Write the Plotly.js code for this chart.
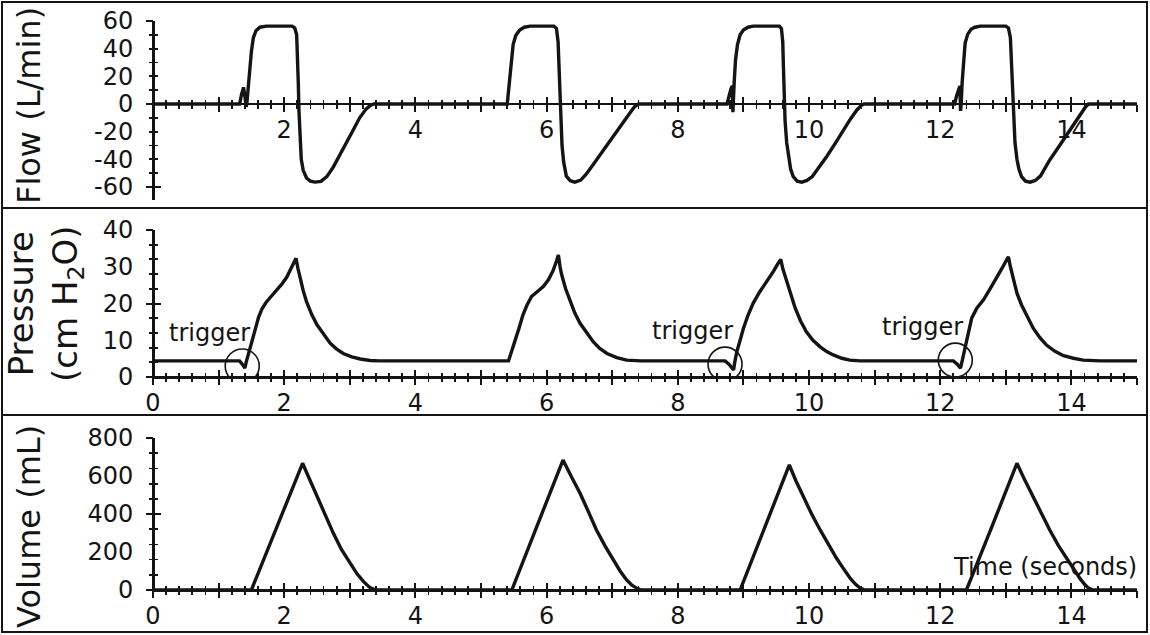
<!DOCTYPE html>
<html>
<head>
<meta charset="utf-8">
<script src="https://cdn.plot.ly/plotly-3.0.1.min.js"></script>
<style>html,body{margin:0;padding:0;background:#fff;}#chart{width:1150px;height:635px;}</style>
</head>
<body>
<div id="chart"></div>
<script>
// ---------------- DATA ----------------
// Flow (L/min) vs time (s)
const flowTime = [0,1.32,1.35,1.38,1.40,1.42,1.43,1.46,1.50,1.53,1.57,1.63,1.73,2.12,2.16,2.19,2.205,2.215,2.225,2.24,2.26,2.29,2.34,2.40,2.47,2.56,2.65,2.75,2.85,2.95,3.05,3.15,3.25,3.32,3.37,
  5.40,5.43,5.46,5.49,5.53,5.59,5.66,5.75,6.11,6.15,6.175,6.19,6.205,6.215,6.235,6.26,6.30,6.36,6.43,6.52,6.60,6.70,6.81,6.94,7.07,7.17,7.27,7.34,7.40,
  8.75,8.78,8.81,8.83,8.835,8.84,8.845,8.86,8.88,8.91,8.95,9.00,9.07,9.15,9.55,9.58,9.60,9.61,9.62,9.635,9.66,9.69,9.72,9.76,9.82,9.89,9.97,10.05,10.15,10.27,10.40,10.52,10.63,10.73,10.80,10.84,
  12.22,12.25,12.28,12.30,12.305,12.31,12.32,12.335,12.355,12.38,12.42,12.47,12.53,12.61,13.00,13.04,13.07,13.09,13.105,13.12,13.14,13.17,13.20,13.24,13.30,13.37,13.45,13.53,13.67,13.80,13.93,14.03,14.13,14.21,14.26,15.0];
const flowValue = [0,0,7,12,6,-2,0,18,38,48,53,55.5,56.3,56.3,55,50,35,15,-5,-28,-40,-48,-53.5,-55.8,-56.5,-56,-52.5,-45.5,-37,-28.5,-19,-10,-3.5,-0.8,0,
  0,14,32,43,49.5,53.5,55.5,56.3,56.3,54.5,45,27,5,-10,-30,-42,-52,-55.5,-56.5,-55,-51,-44.5,-37,-28.5,-20,-13,-6.5,-2,0,
  0,6,11,13,5,-6,0,16,32,43,50,53.5,55.5,56.3,56.3,54.5,45,27,3,-12,-28,-40,-47,-52.5,-55.8,-56.5,-55.3,-52.5,-46,-38,-28.5,-19,-11,-4.3,-1,0,
  0,6,11,13,4,-5,0,16,32,44,50.5,54,55.5,56.3,56.3,55,48,27,5,-10,-28,-40,-47,-52.5,-55.8,-56.5,-55.3,-52,-40.5,-31.5,-22.4,-15,-8,-2.5,0,0];

// Airway pressure (cm H2O) vs time (s)
const pressureTime = [0,1.32,1.36,1.40,1.42,1.45,1.49,1.53,1.57,1.61,1.66,1.72,1.80,1.88,1.96,2.04,2.10,2.15,2.18,2.21,2.24,2.29,2.34,2.42,2.50,2.60,2.70,2.80,2.90,3.03,3.16,3.31,3.45,
  5.42,5.47,5.52,5.58,5.64,5.70,5.77,5.86,5.95,6.03,6.10,6.15,6.18,6.205,6.23,6.29,6.36,6.43,6.51,6.61,6.71,6.81,6.92,7.07,7.22,7.43,
  8.72,8.78,8.85,8.87,8.90,8.95,9.00,9.07,9.15,9.25,9.36,9.46,9.53,9.57,9.60,9.66,9.72,9.79,9.87,9.96,10.06,10.17,10.27,10.37,10.50,10.62,10.78,
  12.20,12.26,12.31,12.34,12.38,12.43,12.48,12.56,12.66,12.76,12.86,12.95,13.01,13.04,13.07,13.11,13.17,13.24,13.33,13.42,13.52,13.62,13.75,13.88,14.03,14.18,14.44,15.0];
const pressureValue = [4.4,4.4,3.5,2.4,4,6,8.3,10.6,13.5,16.3,18.5,20.2,21.9,23.5,25.2,27.2,29.3,31,32.3,29.5,27,23.5,20.5,17,14.2,11.5,9.2,7.6,6.4,5.5,4.9,4.5,4.4,
  4.4,7,9.6,13.3,16.9,19.5,21.9,23.3,24.6,26.5,29,31.5,33.2,30,27.8,24,20.5,17.4,14.6,11.9,9.6,7.8,6.4,5.3,4.6,4.4,
  4.4,3.5,1.9,4.2,6.9,10,13.2,16.8,20.1,23.2,26,28.8,31,32,29.5,26,22,18.7,15.3,12.3,10,8.2,6.9,6,5.1,4.6,4.4,
  4.4,3.5,2.4,4.8,7.8,12,16,18.8,21,24,26.9,29.8,31.8,32.7,30,26.9,22.8,19.6,16.2,13.2,10.7,8.7,7,5.8,5.1,4.6,4.4,4.4];

// Volume (mL) vs time (s)
const volumeTime = [0,1.50,1.89,2.28,2.39,2.50,2.62,2.75,2.87,3.00,3.11,3.21,3.30,3.36,3.41,
  5.47,5.86,6.25,6.38,6.51,6.64,6.76,6.89,7.02,7.12,7.22,7.30,7.37,7.44,
  8.95,9.33,9.70,9.80,9.91,10.04,10.17,10.30,10.42,10.53,10.63,10.71,10.78,10.85,
  12.40,12.79,13.17,13.28,13.39,13.53,13.67,13.80,13.93,14.03,14.13,14.20,14.26,14.33,15.0];
const volumeValue = [0,0,333,667,580,491,395,298,215,140,85,44,15,4,0,
  0,342,684,595,509,410,316,232,158,100,53,25,10,0,
  0,330,658,575,491,400,316,235,167,110,61,30,10,0,
  0,335,667,585,509,410,316,235,167,110,61,30,10,0,0];

// Patient-triggered breaths (circled in the pressure panel)
const triggerTime = [1.36, 8.72, 12.23];
const triggerPressure = [3.0, 3.5, 4.6];
const triggerLabel = ['trigger', 'trigger', 'trigger'];

// Tick labels
const timeTickValsTop = [2,4,6,8,10,12,14];
const timeTickTextTop = ['2','4','6','8','10','12','14'];
const timeTickVals = [0,2,4,6,8,10,12,14];
const timeTickText = ['0','2','4','6','8','10','12','14'];
const flowTickVals = [60,40,20,0,-20,-40,-60];
const flowTickText = ['60','40','20','0','-20','-40','-60'];
const pressureTickVals = [0,10,20,30,40];
const pressureTickText = ['0','10','20','30','40'];
const volumeTickVals = [0,200,400,600,800];
const volumeTickText = ['0','200','400','600','800'];

const flowTitle = 'Flow (L/min)';
const pressureTitle = 'Pressure<br>(cm H<sub>2</sub>O)';
const volumeTitle = 'Volume (mL)';
const timeTitle = 'Time (seconds)';

// ---------------- LAYOUT ----------------
const W = 1150, H = 635;
const PL = 153, PR = 1137, PT = 21, PB = 590;
const yp = py => (PB - py) / (PB - PT);
const xp = px => (px - PL) / (PR - PL);
const FONT = '"DejaVu Sans", Arial, sans-serif';
const INK = '#141414';

const panels = [
  {dom: [yp(200.1), 1], range: [-69.5, 60], tv: timeTickValsTop, tt: timeTickTextTop,
   ytv: flowTickVals, ytt: flowTickText, yMajor: 60, yMinor: 10, t: flowTime, v: flowValue},
  {dom: [yp(377), yp(230)], range: [0, 40], tv: timeTickVals, tt: timeTickText,
   ytv: pressureTickVals, ytt: pressureTickText, yMajor: 20, yMinor: 4, t: pressureTime, v: pressureValue},
  {dom: [0, yp(438)], range: [0, 800], tv: timeTickVals, tt: timeTickText,
   ytv: volumeTickVals, ytt: volumeTickText, yMajor: 400, yMinor: 80, t: volumeTime, v: volumeValue}
];

const axId = (c, n) => n === 1 ? c : c + n;
const axKey = (c, n) => n === 1 ? c + 'axis' : c + 'axis' + n;

const layout = {
  width: W, height: H,
  margin: {l: PL, r: W - PR, t: PT, b: H - PB, pad: 0},
  paper_bgcolor: '#ffffff', plot_bgcolor: 'rgba(0,0,0,0)',
  showlegend: false, hovermode: false,
  font: {family: FONT, size: 24, color: INK},
  shapes: [], annotations: []
};
const data = [];

panels.forEach((p, k) => {
  const i = k + 1;
  const xpos = p.dom[0] + (0 - p.range[0]) / (p.range[1] - p.range[0]) * (p.dom[1] - p.dom[0]);
  const common = {showgrid: false, zeroline: false, fixedrange: true};
  // label axes
  layout[axKey('x', i)] = Object.assign({}, common, {
    domain: [0, 1], range: [0, 15], anchor: 'free', position: xpos,
    showline: true, linewidth: 2.5, linecolor: INK, ticks: '',
    tickmode: 'array', tickvals: p.tv, ticktext: p.tt,
    tickfont: {family: FONT, size: 24, color: INK}, ticklabelstandoff: 4
  });
  layout[axKey('y', i)] = Object.assign({}, common, {
    domain: p.dom, range: p.range, anchor: 'free', position: 0,
    showline: true, linewidth: 2.5, linecolor: INK, ticks: '',
    tickmode: 'array', tickvals: p.ytv, ticktext: p.ytt,
    tickfont: {family: FONT, size: 24, color: INK}, ticklabelstandoff: 14
  });
  data.push({type: 'scatter', mode: 'lines', x: p.t, y: p.v,
    xaxis: axId('x', i), yaxis: axId('y', i),
    line: {color: INK, width: 3.4}, hoverinfo: 'skip'});
  // tick-only overlay axes (outside + inside = crossing ticks)
  ['outside', 'inside'].forEach((side, s) => {
    const n = i + 3 * (s + 1);
    layout[axKey('x', n)] = Object.assign({}, common, {
      overlaying: axId('x', i), range: [0, 15], anchor: 'free', position: xpos,
      showline: false, showticklabels: false, ticks: side,
      tickmode: 'linear', tick0: 0, dtick: 1, ticklen: 7, tickwidth: 2, tickcolor: INK,
      minor: {ticks: side, tickmode: 'linear', tick0: 0, dtick: 0.2, ticklen: 4, tickwidth: 1.8, tickcolor: INK, showgrid: false}
    });
    layout[axKey('y', n)] = Object.assign({}, common, {
      overlaying: axId('y', i), range: p.range, anchor: 'free', position: 0,
      showline: false, showticklabels: false, ticks: side,
      tickmode: 'linear', tick0: 0, dtick: p.yMajor, ticklen: 7, tickwidth: 2, tickcolor: INK,
      minor: {ticks: side, tickmode: 'linear', tick0: 0, dtick: p.yMinor, ticklen: 4, tickwidth: 1.8, tickcolor: INK, showgrid: false}
    });
    data.push({type: 'scatter', mode: 'lines', x: [], y: [],
      xaxis: axId('x', n), yaxis: axId('y', n), hoverinfo: 'skip'});
  });
});

// Panel frames
const frameLine = {color: INK, width: 2};
layout.shapes.push({type: 'rect', xref: 'paper', yref: 'paper',
  x0: xp(2), x1: xp(1147), y0: yp(632), y1: yp(2), line: frameLine});
[208, 415].forEach(py => layout.shapes.push({type: 'line', xref: 'paper', yref: 'paper',
  x0: xp(2), x1: xp(1147), y0: yp(py), y1: yp(py), line: frameLine}));

// Trigger circles and labels
triggerTime.forEach((t, j) => {
  layout.shapes.push({type: 'circle', xref: 'x2', yref: 'y2',
    xsizemode: 'pixel', ysizemode: 'pixel', xanchor: t, yanchor: triggerPressure[j],
    x0: -17, x1: 17, y0: -17, y1: 17, line: {color: INK, width: 1.6}});
  layout.annotations.push({xref: 'x2', yref: 'y2', x: t, y: triggerPressure[j],
    xshift: -33, yshift: 33, text: triggerLabel[j], showarrow: false,
    font: {family: FONT, size: 24, color: INK}, xanchor: 'center', yanchor: 'middle'});
});

// Axis titles (rotated) and time label
layout.annotations.push(
  {xref: 'paper', yref: 'paper', x: xp(29), y: yp(106), text: flowTitle, textangle: -90,
   showarrow: false, xanchor: 'center', yanchor: 'middle', font: {family: FONT, size: 32, color: INK}},
  {xref: 'paper', yref: 'paper', x: xp(45), y: yp(304), text: pressureTitle, textangle: -90,
   showarrow: false, xanchor: 'center', yanchor: 'middle', font: {family: FONT, size: 34, color: INK}},
  {xref: 'paper', yref: 'paper', x: xp(29), y: yp(527), text: volumeTitle, textangle: -90,
   showarrow: false, xanchor: 'center', yanchor: 'middle', font: {family: FONT, size: 32, color: INK}},
  {xref: 'x3', yref: 'y3', x: 15, y: 121, text: timeTitle, showarrow: false,
   xanchor: 'right', yanchor: 'middle', xshift: 2, font: {family: FONT, size: 24, color: INK}}
);

Plotly.newPlot('chart', data, layout, {staticPlot: true, displayModeBar: false});
</script>
</body>
</html>
